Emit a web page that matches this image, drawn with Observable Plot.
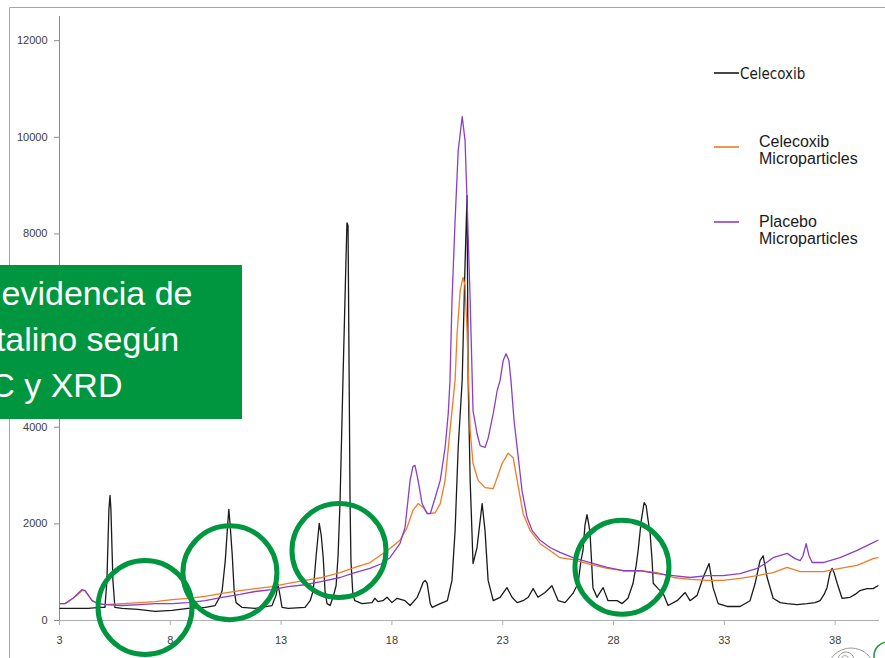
<!DOCTYPE html>
<html>
<head>
<meta charset="utf-8">
<script src="https://cdn.jsdelivr.net/npm/d3@7"></script>
<script src="https://cdn.jsdelivr.net/npm/@observablehq/plot@0.6"></script>
<style>
  html, body { margin: 0; padding: 0; background: #fff; }
  #wrap { position: relative; width: 885px; height: 658px; overflow: hidden; background: #fff; }
  #wrap svg { position: absolute; left: 0; top: 0; }
</style>
</head>
<body>
<div id="wrap"></div>
<script>
// ---- data (2θ in degrees, intensity in counts) ----
const xTicks = [3, 8, 13, 18, 23, 28, 33, 38];
const yTicks = [0, 2000, 4000, 6000, 8000, 10000, 12000];

const seriesNames = ["Celecoxib", "Celecoxib Microparticles", "Placebo Microparticles"];

const celecoxib = [
  [3.02,250],[3.56,250],[4.29,250],[4.83,270],[5.05,270],[5.14,830],[5.23,2300],[5.28,2590],[5.32,2300],[5.41,830],[5.50,270],
  [5.82,250],[6.54,230],[7.31,190],[8.08,210],[8.80,250],[9.57,270],[10.02,310],[10.25,500],[10.34,620],[10.48,1240],[10.57,1860],
  [10.64,2300],[10.70,1970],[10.79,1390],[10.88,620],[10.97,370],[11.24,270],[11.83,250],[12.59,310],[12.77,520],[12.86,745],
  [12.95,520],[13.04,270],[13.32,250],[14.08,270],[14.31,410],[14.45,620],[14.58,1340],[14.72,2010],[14.81,1760],[14.90,1300],
  [14.98,620],[15.07,350],[15.21,310],[15.34,480],[15.48,720],[15.57,1340],[15.66,2480],[15.79,4970],[15.88,6620],[15.97,8230],
  [16.02,8170],[16.06,5590],[16.11,2480],[16.15,1240],[16.24,520],[16.33,410],[16.65,350],[17.10,370],[17.23,460],[17.37,390],
  [17.59,410],[17.78,480],[18.00,370],[18.23,460],[18.59,410],[18.82,310],[19.14,480],[19.27,620],[19.41,790],[19.50,830],
  [19.59,770],[19.73,350],[19.82,270],[20.18,350],[20.50,410],[20.71,830],[20.85,1860],[20.99,3580],[21.17,4970],[21.30,7400],
  [21.39,8790],[21.44,4970],[21.53,2900],[21.66,1180],[21.84,1510],[22.07,2420],[22.20,1860],[22.34,830],[22.57,410],[22.88,480],
  [23.19,680],[23.42,480],[23.65,370],[23.92,410],[24.15,480],[24.37,660],[24.59,480],[24.91,580],[25.22,720],[25.50,410],
  [25.81,370],[26.17,560],[26.40,770],[26.53,1240],[26.62,1450],[26.71,1970],[26.80,2190],[26.89,1970],[26.94,1800],[27.03,1030],
  [27.07,680],[27.25,480],[27.39,580],[27.53,680],[27.66,520],[27.75,410],[28.16,410],[28.39,350],[28.65,460],[28.88,770],
  [29.02,1140],[29.11,1450],[29.25,2070],[29.38,2440],[29.47,2380],[29.56,2070],[29.65,1800],[29.74,1240],[29.79,770],[30.01,660],
  [30.24,560],[30.46,310],[30.87,410],[31.23,580],[31.45,410],[31.77,520],[32.04,890],[32.31,1180],[32.49,680],[32.72,350],
  [33.12,290],[33.71,290],[34.16,410],[34.39,770],[34.61,1240],[34.75,1340],[34.93,890],[35.20,460],[35.52,370],[35.83,350],
  [36.28,330],[36.73,350],[37.09,370],[37.32,410],[37.50,540],[37.63,680],[37.77,990],[37.86,1080],[37.95,990],[38.09,770],
  [38.31,460],[38.67,480],[38.90,540],[39.12,620],[39.44,660],[39.71,660],[39.93,720]
];

const celecoxibMicro = [
  [3.02,350],[3.25,350],[3.61,460],[3.83,540],[4.02,620],[4.15,620],[4.24,560],[4.47,410],[4.74,350],[5.05,330],[5.82,350],
  [6.63,370],[7.31,390],[8.08,430],[8.80,460],[9.57,500],[10.34,560],[11.15,620],[11.83,660],[12.59,700],[13.32,770],[14.08,830],
  [14.85,890],[15.66,990],[16.33,1100],[17.01,1200],[17.55,1370],[17.91,1490],[18.36,1660],[18.68,1920],[18.95,2280],[19.18,2420],
  [19.41,2340],[19.63,2210],[19.95,2230],[20.18,2420],[20.40,2900],[20.62,3930],[20.85,4970],[20.94,5940],[21.08,6830],[21.21,7100],
  [21.30,6930],[21.39,6000],[21.44,5230],[21.53,3930],[21.66,3250],[21.89,2900],[22.20,2750],[22.57,2730],[22.75,2960],[22.97,3250],
  [23.24,3460],[23.47,3370],[23.65,2900],[23.92,2210],[24.24,1860],[24.69,1590],[25.13,1450],[25.58,1300],[26.17,1260],[26.94,1160],
  [27.71,1080],[28.43,1030],[29.20,1030],[29.97,990],[30.69,890],[31.45,850],[32.22,830],[32.94,830],[33.71,870],[34.48,930],
  [35.20,990],[35.83,1100],[36.42,1010],[37.46,1010],[38.22,1080],[38.99,1140],[39.71,1280],[39.93,1300]
];

const placeboMicro = [
  [3.02,350],[3.25,350],[3.61,460],[3.83,560],[4.02,640],[4.15,620],[4.24,560],[4.47,410],[4.74,350],[5.05,330],[5.82,310],
  [6.63,330],[7.31,350],[8.08,350],[8.80,370],[9.57,410],[10.34,480],[11.15,540],[11.83,600],[12.59,640],[13.32,700],[14.08,740],
  [14.85,810],[15.66,890],[16.33,990],[17.01,1080],[17.55,1180],[17.91,1300],[18.36,1590],[18.59,1920],[18.82,2900],[18.95,3190],
  [19.04,3210],[19.18,2900],[19.36,2420],[19.59,2210],[19.73,2210],[19.95,2540],[20.18,2900],[20.40,3580],[20.54,4280],[20.62,4970],
  [20.71,6620],[20.85,8280],[20.99,9720],[21.17,10430],[21.30,9930],[21.39,8690],[21.53,6620],[21.66,4340],[21.84,3870],[21.98,3620],
  [22.20,3580],[22.34,3770],[22.57,4280],[22.75,4760],[22.88,4970],[23.02,5380],[23.15,5520],[23.28,5380],[23.37,4970],[23.51,4140],
  [23.65,3580],[23.87,2690],[24.10,2130],[24.33,1860],[24.69,1660],[25.13,1510],[25.58,1410],[26.17,1300],[26.94,1200],[27.71,1100],
  [28.43,1030],[29.20,1030],[29.97,970],[30.69,930],[31.45,890],[32.22,930],[32.94,930],[33.71,970],[34.48,1080],[34.84,1180],
  [35.20,1300],[35.83,1390],[36.19,1280],[36.42,1240],[36.55,1340],[36.69,1590],[36.82,1340],[36.96,1200],[37.46,1200],[38.22,1300],
  [38.99,1450],[39.71,1610],[39.93,1660]
];

// highlighted regions (centres in data units)
const circleX = [6.86, 10.69, 15.61, 28.38];
const circleY = [270, 990, 1450, 1100];

const boxLines = ["Sin evidencia de", "cristalino según", "DSC y XRD"];

// ---- styling ----
const colors = ["#1a1a1a", "#F27B25", "#8B3EC6"];
const green = "#00963F";

const rows = [];
[celecoxib, celecoxibMicro, placeboMicro].forEach((s, i) =>
  s.forEach(([x, y]) => rows.push({series: seriesNames[i], x, y})));
const circles = circleX.map((x, i) => ({x, y: circleY[i]}));

const chart = Plot.plot({
  width: 885,
  height: 658,
  marginLeft: 59,
  marginRight: 6,
  marginTop: 16,
  marginBottom: 38,
  style: {fontFamily: "Liberation Sans, Arial, sans-serif", fontSize: "11px", background: "white"},
  x: {domain: [3, 40]},
  y: {domain: [0, 12500]},
  color: {domain: seriesNames, range: colors},
  marks: [
    Plot.ruleX([3], {stroke: "#8c8c8c"}),
    Plot.ruleY([0], {stroke: "#b0b0b0"}),
    Plot.axisX({ticks: xTicks, tickSize: 5, tickPadding: 11, tickFormat: d3.format("d"), stroke: "#b0b0b0", fill: "#404040", fontSize: 11, label: null}),
    Plot.axisY({ticks: yTicks, tickSize: 5, tickPadding: 7, tickFormat: d3.format("d"), stroke: "#8c8c8c", fill: "#404040", fontSize: 11, label: null}),
    Plot.line(rows, {x: "x", y: "y", z: "series", stroke: "series", strokeWidth: 1.3}),
    Plot.dot(circles, {x: "x", y: "y", r: 47, stroke: green, strokeWidth: 5, fill: "none"})
  ]
});
const wrap = document.getElementById("wrap");
wrap.appendChild(chart);

// ---- overlay: frame, green box, legend, logo ----
const ov = d3.select(wrap).append("svg").attr("width", 885).attr("height", 658);
ov.append("path").attr("d", "M9.5,658V7.5H885").attr("fill", "none").attr("stroke", "#a6a6a6");

ov.append("rect").attr("x", 0).attr("y", 265).attr("width", 242).attr("height", 154).attr("fill", green);
const bt = ov.append("text").attr("font-family", "Liberation Sans, Arial, sans-serif").attr("font-size", 34).attr("fill", "white");
boxLines.forEach((t, i) => bt.append("tspan").attr("x", -57).attr("y", 305 + i * 46).text(t));

// legend
const leg = [
  {y: 73, tx: 740, ty: [79], lines: [seriesNames[0]], condensed: true},
  {y: 147, tx: 759, ty: [147, 164], lines: ["Celecoxib", "Microparticles"]},
  {y: 222, tx: 759, ty: [227, 244], lines: ["Placebo", "Microparticles"]}
];
leg.forEach((l, i) => {
  ov.append("line").attr("x1", 714).attr("x2", 739).attr("y1", l.y).attr("y2", l.y)
    .attr("stroke", colors[i]).attr("stroke-width", 1.6);
  const t = ov.append("text").attr("fill", "#1a1a1a")
    .attr("font-family", l.condensed ? "DejaVu Sans Condensed, Liberation Sans Narrow, Liberation Sans" : "Liberation Sans, Arial, sans-serif")
    .attr("font-size", l.condensed ? 15 : 16);
  if (l.condensed) t.style("font-stretch", "condensed");
  l.lines.forEach((s, j) => t.append("tspan").attr("x", l.tx).attr("y", l.ty[j]).text(s));
});

// partial logo at bottom right
ov.append("circle").attr("cx", 851).attr("cy", 672).attr("r", 24).attr("fill", "none").attr("stroke", "#9a9a9a").attr("stroke-width", 1);
ov.append("circle").attr("cx", 846).attr("cy", 660).attr("r", 8).attr("fill", "none").attr("stroke", "#a0a0a0").attr("stroke-width", 1);
ov.append("circle").attr("cx", 845).attr("cy", 659).attr("r", 3.5).attr("fill", "none").attr("stroke", "#a8a8a8").attr("stroke-width", 1);
ov.append("path").attr("d", "M892,642H888a14,14 0 0 0 -14,14V670").attr("fill", "none").attr("stroke", "#2a9a4a").attr("stroke-width", 1.6);
</script>
</body>
</html>
